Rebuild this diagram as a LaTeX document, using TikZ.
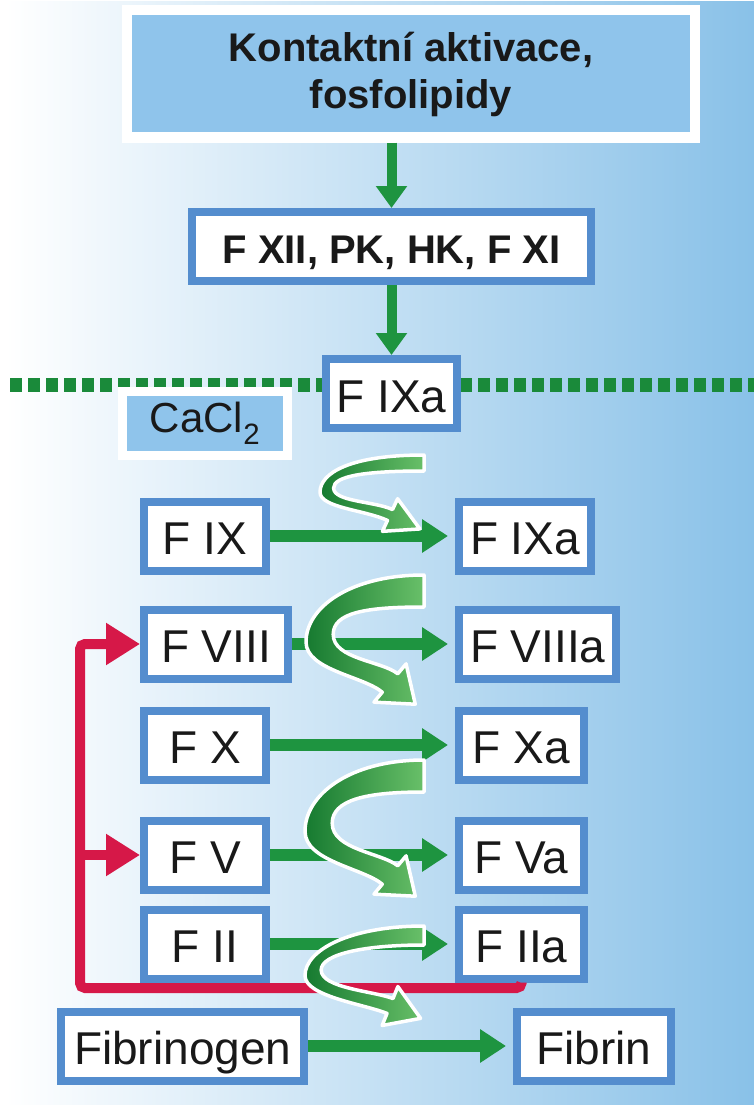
\documentclass[tikz,border=0pt]{standalone}
\usepackage{fontspec}
\setmainfont{Liberation Sans}
\usetikzlibrary{positioning,arrows.meta}

\definecolor{bgblue}{RGB}{137,193,232}
\definecolor{capblue}{RGB}{143,196,235}
\definecolor{frameblue}{RGB}{84,141,206}
\definecolor{flowgreen}{RGB}{30,148,64}
\definecolor{dashgreen}{RGB}{26,138,58}
\definecolor{darkleaf}{RGB}{22,122,48}
\definecolor{lightleaf}{RGB}{105,192,105}
\definecolor{loopred}{RGB}{214,24,72}

\begin{document}
\begin{tikzpicture}[
		x=1pt, y=-1pt,
		fac/.style = {draw=frameblue, line width=8pt, fill=white, minimum height=69pt,
			text=black!90, text height=37pt, text depth=0pt, font=\fontsize{46}{55}\selectfont},
		lhs/.style = {fac, anchor=west, minimum width=122pt, inner xsep=17pt},
		rhs/.style = {fac, anchor=west, minimum width=125pt, inner xsep=11pt},
		capbox/.style = {draw=white, fill=capblue, text=black!90},
		vflow/.style = {draw=flowgreen, line width=10pt, -{Triangle[width=30pt,length=22pt]}},
		conv/.style = {draw=flowgreen, line width=12pt, -{Triangle[width=32pt,length=26pt]}, shorten >=7pt},
		feed/.style = {draw=loopred, line width=10pt, rounded corners=5pt, -{Triangle[width=40pt,length=34pt]}},
		swoosh/.style = {draw=white, line width=3.5pt, line join=round, left color=darkleaf, right color=lightleaf}
	]
	\useasboundingbox (0,0) rectangle (754,1105);
	\fill[white] (0,0) rectangle (754,1105);
	\shade[left color=white, right color=bgblue] (5,2) rectangle (754,1105);
	\draw[dashgreen, line width=14pt, dash pattern=on 12pt off 6pt] (10,385) -- (754,385);
	
	% Contact phase.
	\node[capbox, line width=10pt, minimum width=568pt, minimum height=127pt, align=center,
		font=\bfseries\fontsize{40}{47}\selectfont] (contact) at (411,74) {Kontaktní aktivace,\\fosfolipidy};
	\node[fac, minimum width=399pt, text height=34pt, font=\bfseries\fontsize{40}{50}\selectfont] (fxii) at (391.5,246.5) {F XII, PK, HK, F XI};
	\node[fac, inner xsep=11pt, below=70pt of fxii] (fixa0) {F IXa};
	\node[capbox, line width=9pt, minimum width=165pt, minimum height=64pt,
		font=\fontsize{42}{50}\selectfont] (cacl) at (205,423) {CaCl\textsubscript{2}};
	
	% Row 1.
	\node[lhs] (fix) at (140,536) {F IX};
	\node[rhs] (fixa) at (455,536) {F IXa};
	% Row 2.
	\node[lhs] (fviii) at (140,644) {F VIII};
	\node[rhs] (fviiia) at (455,644) {F VIIIa};
	% Row 3.
	\node[lhs] (fx) at (140,745) {F X};
	\node[rhs] (fxa) at (455,745) {F Xa};
	% Row 4.
	\node[lhs] (fv) at (140,855) {F V};
	\node[rhs] (fva) at (455,855) {F Va};
	% Row 5.
	\node[lhs] (fii) at (140,944) {F II};
	\node[rhs] (fiia) at (455,944) {F IIa};
	% Row 6.
	\node[lhs, inner xsep=13pt] (fbg) at (57,1046) {Fibrinogen};
	\node[rhs, minimum width=154pt] (fbn) at (513,1046) {Fibrin};
	
	\draw[vflow] (contact.south -| fxii.north) -- (fxii.north);
	\draw[vflow] (fxii) -- (fixa0);
	\draw[conv] (fix) -- (fixa);
	\draw[conv] (fviii) -- (fviiia);
	\draw[conv] (fx) -- (fxa);
	\draw[conv] (fv) -- (fva);
	\draw[conv] (fii) -- (fiia);
	\draw[conv] (fbg) -- (fbn);
	
	% Thrombin feedback.
	\coordinate (turn) at (80,988);
	\draw[feed] (fiia.south) |- (turn) |- (fviii.west);
	\draw[feed] (turn |- fv.west) -- (fv.west);
	
	% Enzyme arrows.
	\foreach \yy/\hh/\ww/\arm/\head/\ang/\lx in {455/60/16/6/18/25/320, 575/108/32/12/25/40/306,
		760/115/32/12/25/40/305, 926/80/19/8/21/22/305}
	{
		\draw[swoosh] (424,\yy)
			.. controls (350,\yy) and (\lx,{\yy+0.3*\hh}) .. (\lx,{\yy+0.62*\hh})
			.. controls (\lx,{\yy+0.88*\hh}) and ({390-\arm*sin(\ang)-25*cos(\ang)},{\yy+\hh+\arm*cos(\ang)-25*sin(\ang)})
			.. ({390-\arm*sin(\ang)},{\yy+\hh+\arm*cos(\ang)})
			-- ({390-\head*sin(\ang)},{\yy+\hh+\head*cos(\ang)})
			-- ({390+33*cos(\ang)},{\yy+\hh+33*sin(\ang)})
			-- ({390+\head*sin(\ang)},{\yy+\hh-\head*cos(\ang)})
			-- ({390+\arm*sin(\ang)},{\yy+\hh-\arm*cos(\ang)})
			.. controls ({390+\arm*sin(\ang)-20*cos(\ang)},{\yy+\hh-\arm*cos(\ang)-20*sin(\ang)}) and ({\lx+0.85*\ww},{\yy+0.78*\hh})
			.. ({\lx+0.85*\ww},{\yy+0.55*\hh})
			.. controls ({\lx+0.85*\ww},{\yy+0.35*\hh}) and (365,{\yy+\ww}) .. (424,{\yy+\ww}) -- cycle;
	}
\end{tikzpicture}
\end{document}
